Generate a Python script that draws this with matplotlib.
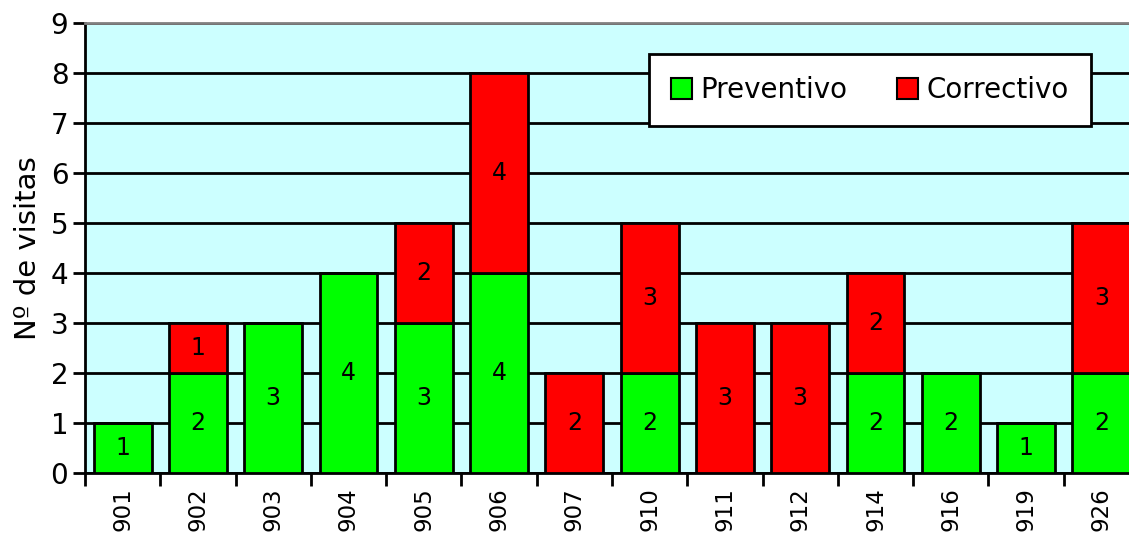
import matplotlib
matplotlib.use("Agg")
import matplotlib.pyplot as plt
import numpy as np

equipos = ["901", "902", "903", "904", "905", "906", "907", "910", "911", "912", "914", "916", "919", "926"]
preventivo = [1, 2, 3, 4, 3, 4, 0, 2, 0, 0, 2, 2, 1, 2]
correctivo = [0, 1, 0, 0, 2, 4, 2, 3, 3, 3, 2, 0, 0, 3]

plt.rcParams["font.family"] = "DejaVu Sans"

fig = plt.figure(figsize=(11.29, 5.37), dpi=100)
ax = fig.add_axes([85 / 1129, 64 / 537, (1139 - 85) / 1129, 450 / 537])
ax.set_facecolor("#CCFFFF")

x = np.arange(len(equipos))
w = 0.77
b1 = ax.bar(x, preventivo, w, color="#00FF00", edgecolor="black", linewidth=2, label="Preventivo", zorder=3)
b2 = ax.bar(x, correctivo, w, bottom=preventivo, color="#FF0000", edgecolor="black", linewidth=2, label="Correctivo", zorder=3)

# etiquetas dentro de las barras
for i in range(len(equipos)):
    if preventivo[i] > 0:
        ax.text(x[i], preventivo[i] / 2, str(preventivo[i]), ha="center", va="center", fontsize=17, zorder=4)
    if correctivo[i] > 0:
        ax.text(x[i], preventivo[i] + correctivo[i] / 2, str(correctivo[i]), ha="center", va="center", fontsize=17, zorder=4)

ax.set_xlim(-0.5, len(equipos) - 0.5)
ax.set_ylim(0, 9)
ax.set_yticks(range(10))
ax.yaxis.grid(True, color="black", linewidth=2)
ax.set_axisbelow(True)

ax.set_xticks(x)
ax.set_xticklabels(equipos, rotation=90, fontsize=16.5)
ax.tick_params(axis="x", which="major", length=0, pad=10)
ax.set_xticks(np.arange(-0.5, len(equipos), 1), minor=True)
ax.tick_params(axis="x", which="minor", length=9, width=2, direction="out")
ax.tick_params(axis="y", labelsize=20, length=9, width=2, pad=3)

ax.spines["right"].set_visible(False)
ax.spines["top"].set_color("#808080")
ax.spines["top"].set_linewidth(2)
ax.spines["left"].set_linewidth(2)
ax.spines["bottom"].set_linewidth(2)

ax.set_ylabel("Nº de visitas", fontsize=21, labelpad=6)

leg = ax.legend(loc="upper left", bbox_to_anchor=((649 - 85) / 1054, (473 - 54) / 450), ncol=2,
                fontsize=20, frameon=True, fancybox=False, handlelength=0.75, handleheight=0.75,
                handletextpad=0.3, columnspacing=1.8, borderpad=0.8, borderaxespad=0)
leg.get_frame().set_edgecolor("black")
leg.get_frame().set_linewidth(2)
leg.get_frame().set_alpha(1)
for h in leg.legend_handles:
    h.set_linewidth(1.5)

fig.savefig("out.png", dpi=100)
